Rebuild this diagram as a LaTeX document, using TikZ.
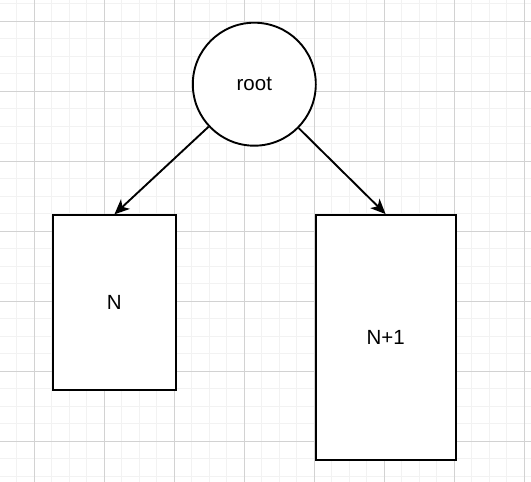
\documentclass[tikz,border=0pt]{standalone}
\usepackage{fontspec}
\setmainfont{Liberation Sans}
\usetikzlibrary{arrows.meta}

\begin{document}
\begin{tikzpicture}[x=1pt, y=-1pt, line width=1.9pt, color=black,
	minorline/.style={gray!10, line width=1.2pt},
	majorline/.style={gray!35, line width=0.9pt},
	box/.style={draw, fill=white, rectangle, inner sep=0pt},
	arr/.style={-{Stealth[length=15pt, width=13pt, inset=4pt]}}]
	\fontsize{20.5}{24}\selectfont
	\useasboundingbox (0,0) rectangle (531,482);
	% grid
	\foreach \i in {-1,...,28}
		\draw[minorline] (34.3+17.5*\i,0) -- ++(0,482);
	\foreach \i in {-1,...,26}
		\draw[minorline] (0,21.3+17.5*\i) -- ++(531,0);
	\foreach \i in {0,...,7}
		\draw[majorline] (34.3+70*\i,0) -- ++(0,482);
	\foreach \i in {0,...,6}
		\draw[majorline] (0,21.3+70*\i) -- ++(531,0);
	% tree
	\node[box, circle, minimum size=123pt] (root) at (254.3,84.2) {root};
	\node[box, minimum width=122.5pt, minimum height=175pt] (lbox) at (114.4,302.8) {N};
	\node[box, minimum width=140pt, minimum height=245pt] (rbox) at (385.6,337.5) {N+1};
	\draw[arr] (root) -- (lbox.north);
	\draw[arr] (root) -- (rbox.north);
\end{tikzpicture}
\end{document}
